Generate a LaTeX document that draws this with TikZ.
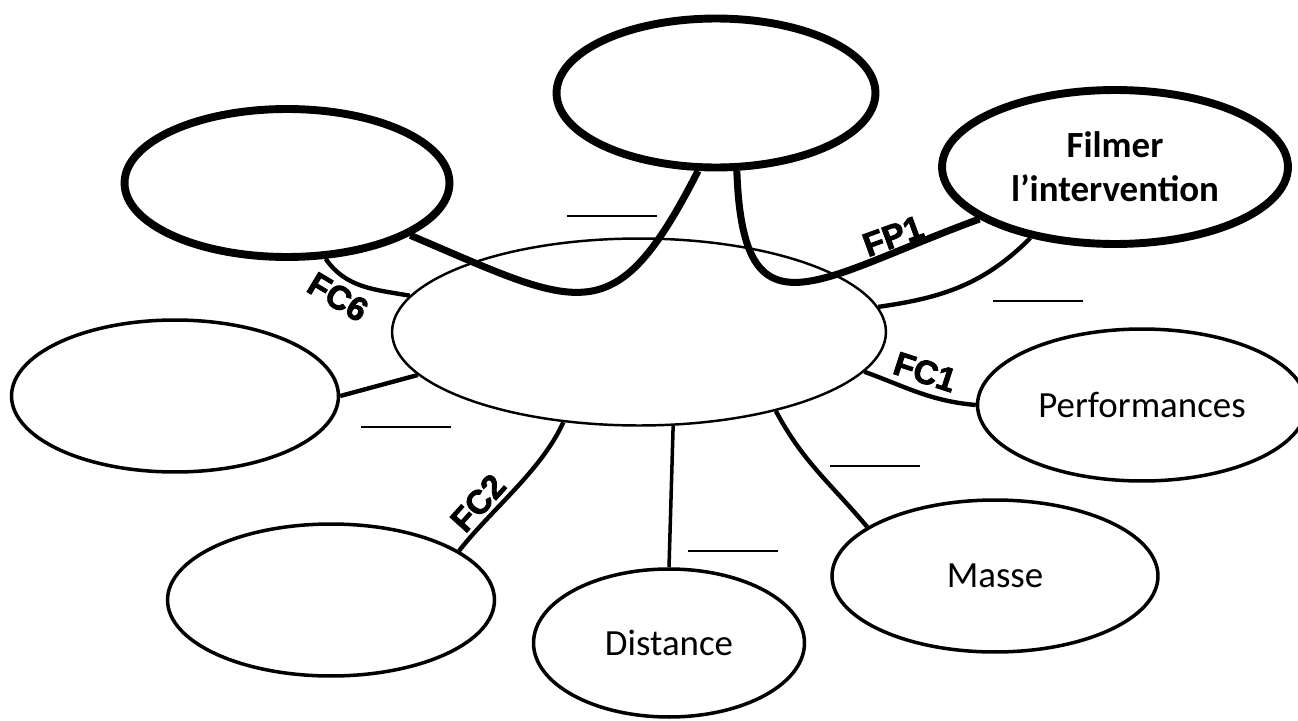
\documentclass[tikz,border=0pt]{standalone}
\usepackage{fontspec}
\setmainfont{Carlito}
\newfontfamily\labelfont[BoldFeatures={FakeBold=2.5}]{Liberation Sans}
\usetikzlibrary{shapes.geometric}

\begin{document}
\begin{tikzpicture}[x=0.02cm, y=-0.02cm,
    bubble/.style={ellipse, draw, line width=2pt, inner sep=0pt, align=center,
        minimum width=6.54cm, minimum height=3.04cm, font=\fontsize{21}{25}\selectfont},
    bigbubble/.style={bubble, line width=4.5pt},
    link/.style={line width=2.5pt},
    biglink/.style={line width=4pt},
    fclabel/.style={font=\labelfont\bfseries\fontsize{19}{20}\selectfont, inner sep=0pt},
    trait/.style={inner sep=0pt}]
    \useasboundingbox (0,0) rectangle (1298,720);

    \node[ellipse, draw, line width=1.4pt, minimum width=9.88cm, minimum height=3.74cm] (centre) at (639,332) {};
    \node[bigbubble, minimum width=6.38cm, minimum height=2.98cm] (haut) at (716,93) {};
    \node[bigbubble, minimum width=6.92cm, minimum height=3.08cm] (filmer) at (1115,167) {\bfseries Filmer\\\bfseries l’intervention};
    \node[bigbubble, minimum width=6.5cm, minimum height=2.96cm] (hautg) at (287,183) {};
    \node[bubble] (gauche) at (175,396) {};
    \node[bubble] (basg) at (331,600) {};
    \node[bubble, minimum width=5.42cm, minimum height=2.96cm] (distance) at (669,643) {Distance};
    \node[bubble, minimum width=6.52cm] (masse) at (995,576) {Masse};
    \node[bubble, minimum width=6.58cm] (perf) at (1142,405) {Performances};

    \draw[biglink] (hautg.-23) to[out=-23, in=-117, looseness=1.6] (haut.-103);
    \draw[biglink] (haut.-75) to[out=-88, in=-160, looseness=1.8] (filmer.-159);
    \draw[link] (centre.6) to[out=8, in=-135] (filmer.-140);
    \draw[link] (centre.-10) to[out=-20, in=175] (perf.180);
    \draw[link] (centre.-30) to[out=-62, in=130] (masse.159);
    \draw[link, line width=2pt] (centre.-70) -- (distance.north);
    \draw[link] (centre.-130) to[out=-114, in=52, looseness=0.8] (basg.21);
    \draw[link] (centre.-169) -- (gauche.east);
    \draw[link] (hautg.-63) to[out=-55, in=170] (centre.171);

    \node[fclabel, rotate=20] (fp1) at (893,236) {FP1};
    \node[fclabel, rotate=-18] (fc1) at (925,372) {FC1};
    \node[fclabel, rotate=48] (fc2) at (478,503) {FC2};
    \node[fclabel, rotate=-31] (fc6) at (338,297) {FC6};

    \node[trait] (u1) at (612,216) {\rule{1.8cm}{0.85pt}};
    \node[trait] (u2) at (1038,301) {\rule{1.8cm}{0.85pt}};
    \node[trait] (u3) at (406,427) {\rule{1.8cm}{0.85pt}};
    \node[trait] (u4) at (875,466) {\rule{1.8cm}{0.85pt}};
    \node[trait] (u5) at (733,551) {\rule{1.8cm}{0.85pt}};
\end{tikzpicture}
\end{document}
